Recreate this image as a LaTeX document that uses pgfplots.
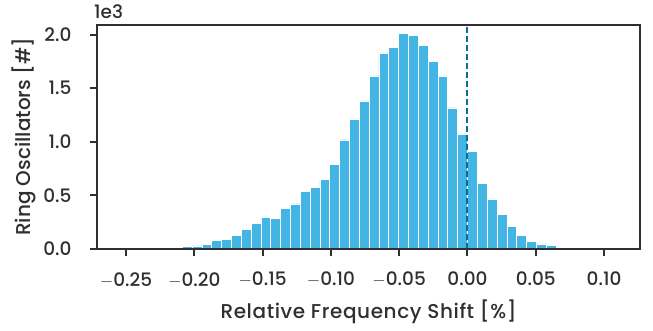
\documentclass[border=0pt]{standalone}
\usepackage{fontspec}
\setmainfont{Poppins}[UprightFont=* Medium]
\usepackage{pgfplots}
\pgfplotsset{compat=1.18}
\definecolor{barblue}{HTML}{43B5E5}
\definecolor{dashteal}{HTML}{0B6E8E}
\definecolor{axgray}{HTML}{2F2F2F}
\begin{document}
\begin{tikzpicture}
\begin{axis}[
  at={(0,0)}, anchor=south west,
  width=543pt, height=224pt, scale only axis,
  xmin=-0.2712, xmax=0.1263,
  ymin=0, ymax=2094,
  axis line style={draw=axgray, line width=2.1pt},
  tick pos=left,
  tick style={axgray, line width=2pt},
  tick align=outside,
  major tick length=7pt,
  xtick={-0.25,-0.20,-0.15,-0.10,-0.05,0,0.05,0.10},
  xticklabels={$-$0.25,$-$0.20,$-$0.15,$-$0.10,$-$0.05,0.00,0.05,0.10},
  ytick={0,500,1000,1500,2000},
  yticklabels={0.0,0.5,1.0,1.5,2.0},
  scaled y ticks=false,
  ticklabel style={font=\fontsize{18.5}{21}\selectfont, text=axgray},
  xticklabel style={yshift=-13pt},
  yticklabel style={xshift=-15pt},
  label style={font=\fontsize{20}{23}\selectfont, text=axgray},
  xlabel={\addfontfeature{LetterSpace=3}Relative Frequency Shift [\%]},
  ylabel={Ring Oscillators [\#]},
  xlabel style={yshift=-6pt},
  ylabel style={yshift=0pt},
  clip=false,
]
\addplot[ybar interval, fill=barblue, draw=white, line width=0.6pt] coordinates {
(-0.216,12) (-0.2088,20) (-0.2016,26) (-0.1944,41) (-0.1872,81) (-0.18,90)
(-0.1728,125) (-0.1656,181) (-0.1584,234) (-0.1512,293) (-0.144,284) (-0.1368,374)
(-0.1296,418) (-0.1224,537) (-0.1152,574) (-0.108,646) (-0.1008,789) (-0.0936,1017)
(-0.0864,1214) (-0.0792,1382) (-0.072,1616) (-0.0648,1831) (-0.0576,1884) (-0.0504,2012)
(-0.0432,1991) (-0.036,1900) (-0.0288,1750) (-0.0216,1616) (-0.0144,1317) (-0.0072,1073)
(0,908) (0.0072,612) (0.0144,465) (0.0216,318) (0.0288,206) (0.036,128)
(0.0432,66) (0.0504,44) (0.0576,28) (0.0648,12) (0.072,4) (0.0792,4)
};
\addplot[dashteal, line width=2pt, dash pattern=on 6pt off 3pt] coordinates {(0,0) (0,2094)};
\draw[axgray, line width=2.1pt] (rel axis cs:0,0) rectangle (rel axis cs:1,1);
\node[anchor=south west, font=\fontsize{18.5}{21}\selectfont, text=axgray, inner sep=0pt] at (rel axis cs:0,1) [yshift=6pt, xshift=-3pt] {1e3};
\end{axis}
\useasboundingbox (-97pt,-81.3pt) rectangle (556pt,248.7pt);
\end{tikzpicture}
\end{document}
